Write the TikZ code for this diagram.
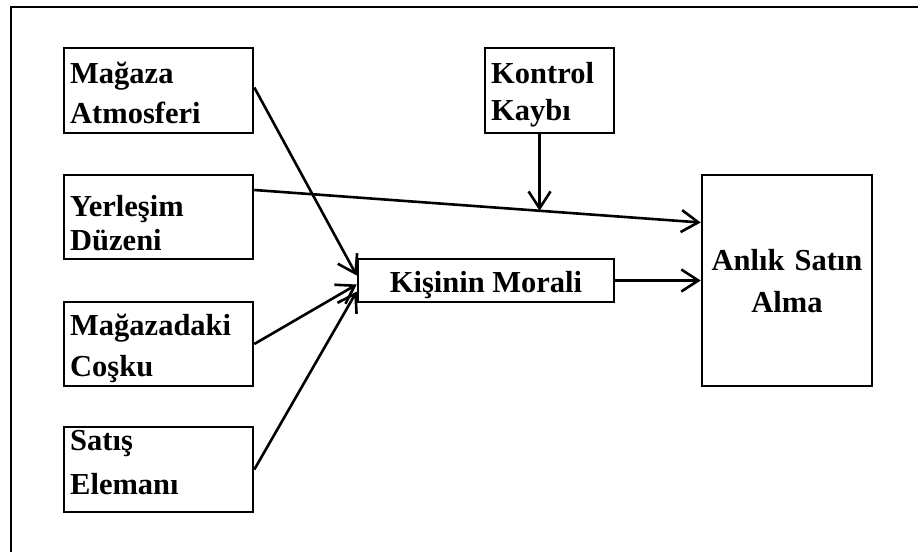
\documentclass[tikz,border=0pt]{standalone}
\usepackage{fontspec}
\setmainfont{Liberation Serif}
\usetikzlibrary{arrows.meta,calc}

\tikzset{
  box/.style={draw, line width=2.6pt, rectangle, inner sep=0pt},
  lbl/.style={inner sep=0pt, font=\fontsize{30.5}{34}\selectfont\bfseries},
  conn/.style={line width=2.6pt, -{Straight Barb[length=17pt,width=22pt,line width=2.6pt]}},
  frame/.style={line width=2.8pt}
}

\begin{document}
\begin{tikzpicture}[x=1pt,y=-1pt]
  \useasboundingbox (0,0) rectangle (918,552);

  % outer frame (top and left edges)
  \coordinate (fTL) at (11,7);
  \coordinate (fTR) at (918,7);
  \coordinate (fBL) at (11,552);
  \draw[frame] (fTR) -- (fTL) -- (fBL);

  % boxes
  \node[box, minimum width=189pt, minimum height=85pt] (ma) at (158.5,90.5) {};
  \node[box, minimum width=189pt, minimum height=84pt] (yd) at (158.5,217) {};
  \node[box, minimum width=189pt, minimum height=84pt] (mc) at (158.5,344) {};
  \node[box, minimum width=189pt, minimum height=85pt] (se) at (158.5,469.5) {};
  \node[box, minimum width=129pt, minimum height=85pt] (kk) at (549.5,90.5) {};
  \node[box, minimum width=256pt, minimum height=43pt] (km) at (486,280.5) {};
  \node[box, minimum width=170pt, minimum height=211pt] (asa) at (787,280.5) {};

  % labels
  \node[lbl, text width=180pt, align=left, anchor=base west] (maT) at (70,83) {Mağaza\\[6pt]Atmosferi};
  \node[lbl, text width=180pt, align=left, anchor=base west] (ydT) at (70,216) {Yerleşim\\Düzeni};
  \node[lbl, text width=180pt, align=left, anchor=base west] (mcT) at (70,335) {Mağazadaki\\[7pt]Coşku};
  \node[lbl, text width=180pt, align=left, anchor=base west] (seT) at (70,450) {Satış\\[10pt]Elemanı};
  \node[lbl, text width=120pt, align=left, anchor=base west] (kkT) at (491,83) {Kontrol\\[3pt]Kaybı};
  \node[lbl, anchor=base] (kmT) at (486,292) {Kişinin Morali};
  \node[lbl, text width=168pt, align=center, anchor=base] (asaT) at (787,270) {Anlık Satın\\[8pt]Alma};

  % connectors
  \coordinate (maO) at ($(ma.east)+(0,-3)$);
  \coordinate (ydO) at ($(yd.east)+(0,-27)$);
  \coordinate (asaI) at ($(asa.west)+(0,-58)$);
  \draw[conn] (maO) -- ($(km.west)+(0,-5)$);
  \draw[conn] (mc.east) -- ($(km.west)+(0,4)$);
  \draw[conn] (se.east) -- ($(km.west)+(0,11)$);
  \draw[conn] (ydO) -- coordinate[pos=0.639] (hit) (asaI);
  \draw[conn] (hit |- kk.south) -- (hit);
  \draw[conn] (km.east) -- (km.east -| asa.west);
\end{tikzpicture}
\end{document}
